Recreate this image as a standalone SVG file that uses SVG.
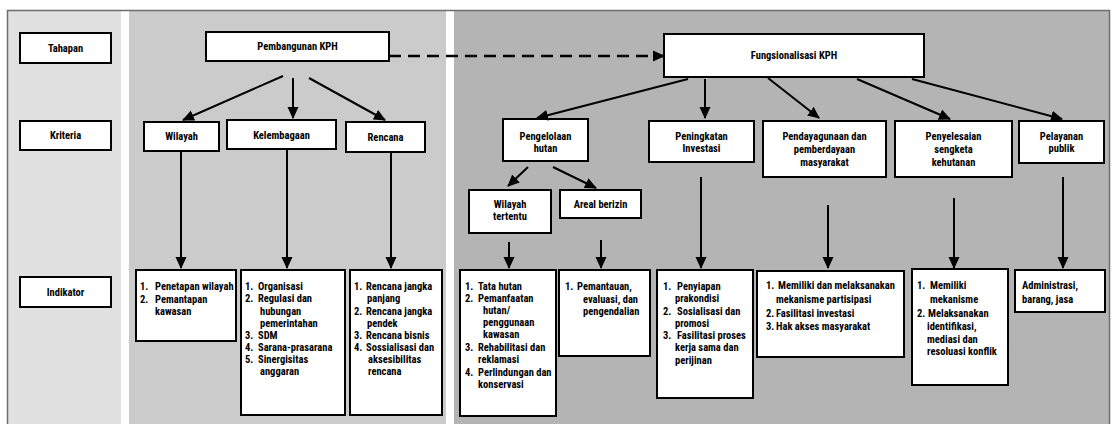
<svg xmlns="http://www.w3.org/2000/svg" width="1113" height="424" viewBox="0 0 1113 424">
<style>
.box{fill:#fff;stroke:#000;stroke-width:2}
.t{font-family:"Liberation Sans Narrow","Roboto Condensed","DejaVu Sans Condensed","Liberation Sans",sans-serif;font-weight:bold;font-size:10.5px;fill:#000}
.c{text-anchor:middle}
.ln{stroke:#000;stroke-width:2;fill:none;marker-end:url(#ah)}
.dash{stroke-width:2.5;stroke-dasharray:12 7}
</style>
<defs>
<marker id="ah" markerWidth="12" markerHeight="12" refX="11" refY="6" orient="auto" markerUnits="userSpaceOnUse"><path d="M0,0.5 L12,6 L0,11.5 z" fill="#000"/></marker>
</defs>
<g id="background">
<rect x="0" y="0" width="1113" height="424" fill="#fff"/>
<rect x="7" y="10" width="114" height="414" fill="#e1e1e1"/>
<rect x="129" y="10" width="317" height="414" fill="#cbcbcb"/>
<rect x="454" y="10" width="656" height="414" fill="#b4b4b4"/>
<rect x="7.5" y="10.5" width="1102" height="420" fill="none" stroke="#6e6e6e" stroke-width="1.5"/>
</g>
<g id="tahapan"><rect class="box" x="20" y="33" width="91" height="30"/><text class="t c" x="65.5" y="52">Tahapan</text></g>
<g id="kriteria"><rect class="box" x="20" y="121" width="91" height="29"/><text class="t c" x="65.5" y="139">Kriteria</text></g>
<g id="indikator"><rect class="box" x="20" y="277" width="91" height="30"/><text class="t c" x="65.5" y="296">Indikator</text></g>
<g id="pembangunan"><rect class="box" x="206" y="32" width="183" height="29"/><text class="t c" x="297.5" y="50">Pembangunan KPH</text></g>
<g id="fungsionalisasi"><rect class="box" x="664" y="34" width="260" height="43"/><text class="t c" x="794" y="59">Fungsionalisasi KPH</text></g>
<g id="wilayah"><rect class="box" x="144" y="122" width="75" height="29"/><text class="t c" x="181.5" y="140">Wilayah</text></g>
<g id="kelembagaan"><rect class="box" x="227" y="120" width="109" height="29"/><text class="t c" x="281.5" y="139">Kelembagaan</text></g>
<g id="rencana"><rect class="box" x="346" y="122" width="79" height="30"/><text class="t c" x="385.5" y="141">Rencana</text></g>
<g id="pengelolaan"><rect class="box" x="503" y="119" width="85" height="42"/><text class="t c" x="545.5" y="140">Pengelolaan</text><text class="t c" x="545.5" y="152">hutan</text></g>
<g id="peningkatan"><rect class="box" x="649" y="121" width="105" height="41"/><text class="t c" x="701.5" y="140">Peningkatan</text><text class="t c" x="701.5" y="152">Investasi</text></g>
<g id="pendayagunaan"><rect class="box" x="763" y="121" width="123" height="56"/><text class="t c" x="824.5" y="140">Pendayagunaan dan</text><text class="t c" x="824.5" y="153">pemberdayaan</text><text class="t c" x="824.5" y="166">masyarakat</text></g>
<g id="penyelesaian"><rect class="box" x="895" y="121" width="117" height="56"/><text class="t c" x="953.5" y="140">Penyelesaian</text><text class="t c" x="953.5" y="153">sengketa</text><text class="t c" x="953.5" y="166">kehutanan</text></g>
<g id="pelayanan"><rect class="box" x="1019" y="121" width="85" height="42"/><text class="t c" x="1061.5" y="140">Pelayanan</text><text class="t c" x="1061.5" y="152">publik</text></g>
<g id="wilayah-tertentu"><rect class="box" x="469" y="190" width="82" height="43"/><text class="t c" x="510" y="208">Wilayah</text><text class="t c" x="510" y="220">tertentu</text></g>
<g id="areal-berizin"><rect class="box" x="560" y="190" width="81" height="28"/><text class="t c" x="600.5" y="208">Areal berizin</text></g>
<g id="ind-wilayah"><rect class="box" x="136" y="270" width="100" height="71"/>
<text class="t"><tspan x="140" y="290">1.</tspan><tspan x="155" y="290">Penetapan wilayah</tspan><tspan x="140" y="302.5">2.</tspan><tspan x="155" y="302.5">Pemantapan</tspan><tspan x="155" y="315">kawasan</tspan></text></g>
<g id="ind-kelembagaan"><rect class="box" x="241" y="270" width="104" height="145"/>
<text class="t"><tspan x="245" y="290">1.</tspan><tspan x="258" y="290">Organisasi</tspan><tspan x="245" y="302">2.</tspan><tspan x="258" y="302">Regulasi dan</tspan><tspan x="260" y="314.5">hubungan</tspan><tspan x="260" y="326.5">pemerintahan</tspan><tspan x="245" y="338.5">3.</tspan><tspan x="258" y="338.5">SDM</tspan><tspan x="245" y="350.5">4.</tspan><tspan x="258" y="350.5">Sarana-prasarana</tspan><tspan x="245" y="362.5">5.</tspan><tspan x="258" y="362.5">Sinergisitas</tspan><tspan x="260" y="375">anggaran</tspan></text></g>
<g id="ind-rencana"><rect class="box" x="350" y="270" width="92" height="145"/>
<text class="t"><tspan x="354" y="290">1.</tspan><tspan x="366" y="290">Rencana jangka</tspan><tspan x="367" y="302">panjang</tspan><tspan x="354" y="314.5">2.</tspan><tspan x="366" y="314.5">Rencana jangka</tspan><tspan x="367" y="326.5">pendek</tspan><tspan x="354" y="338.5">3.</tspan><tspan x="366" y="338.5">Rencana bisnis</tspan><tspan x="354" y="350.5">4.</tspan><tspan x="366" y="350.5">Sossialisasi dan</tspan><tspan x="368" y="363">aksesibilitas</tspan><tspan x="368" y="375">rencana</tspan></text></g>
<g id="ind-wilayah-tertentu"><rect class="box" x="460" y="270" width="96" height="146"/>
<text class="t"><tspan x="465" y="290">1.</tspan><tspan x="478" y="290">Tata hutan</tspan><tspan x="465" y="302">2.</tspan><tspan x="478" y="302">Pemanfaatan</tspan><tspan x="483" y="314">hutan/</tspan><tspan x="483" y="326">penggunaan</tspan><tspan x="483" y="338">kawasan</tspan><tspan x="465" y="350.5">3.</tspan><tspan x="478" y="350.5">Rehabilitasi dan</tspan><tspan x="478" y="363">reklamasi</tspan><tspan x="465" y="375.5">4.</tspan><tspan x="478" y="375.5">Perlindungan dan</tspan><tspan x="478" y="388">konservasi</tspan></text></g>
<g id="ind-areal"><rect class="box" x="559" y="270" width="91" height="86"/>
<text class="t"><tspan x="565" y="290">1.</tspan><tspan x="577" y="290">Pemantauan,</tspan><tspan x="583" y="302.5">evaluasi, dan</tspan><tspan x="583" y="315">pengendalian</tspan></text></g>
<g id="ind-investasi"><rect class="box" x="657" y="270" width="96" height="128"/>
<text class="t"><tspan x="663" y="290">1.</tspan><tspan x="677" y="290">Penyiapan</tspan><tspan x="675" y="302">prakondisi</tspan><tspan x="663" y="315">2.</tspan><tspan x="677" y="315">Sosialisasi dan</tspan><tspan x="675" y="327">promosi</tspan><tspan x="663" y="339">3.</tspan><tspan x="677" y="339">Fasilitasi proses</tspan><tspan x="675" y="351">kerja sama dan</tspan><tspan x="675" y="363.5">perijinan</tspan></text></g>
<g id="ind-masyarakat"><rect class="box" x="757" y="271" width="147" height="86"/>
<text class="t"><tspan x="766" y="289">1.</tspan><tspan x="778" y="289">Memiliki  dan melaksanakan</tspan><tspan x="776" y="302.5">mekanisme partisipasi</tspan><tspan x="766" y="316.5">2.</tspan><tspan x="776" y="316.5">Fasilitasi investasi</tspan><tspan x="766" y="330">3.</tspan><tspan x="776" y="330">Hak akses masyarakat</tspan></text></g>
<g id="ind-sengketa"><rect class="box" x="912" y="269" width="96" height="116"/>
<text class="t"><tspan x="917" y="289">1.</tspan><tspan x="930" y="289">Memiliki</tspan><tspan x="930" y="302.5">mekanisme</tspan><tspan x="917" y="316.5">2.</tspan><tspan x="928" y="316.5">Melaksanakan</tspan><tspan x="927" y="329.5">identifikasi,</tspan><tspan x="927" y="342.5">mediasi dan</tspan><tspan x="927" y="355">resoluasi konflik</tspan></text></g>
<g id="ind-publik"><rect class="box" x="1015" y="270" width="90" height="42"/>
<text class="t"><tspan x="1022" y="289">Administrasi,</tspan><tspan x="1022" y="302.5">barang, jasa</tspan></text></g>
<g id="connectors">
<line class="ln dash" x1="389" y1="56" x2="664" y2="56"/>
<line class="ln" x1="283" y1="76" x2="183" y2="120"/>
<line class="ln" x1="293" y1="78" x2="293" y2="118"/>
<line class="ln" x1="309" y1="78" x2="385" y2="120"/>
<line class="ln" x1="181" y1="152" x2="181" y2="268"/>
<line class="ln" x1="287" y1="150" x2="287" y2="268"/>
<line class="ln" x1="391" y1="153" x2="391" y2="268"/>
<line class="ln" x1="688" y1="79" x2="537" y2="118"/>
<line class="ln" x1="705" y1="79" x2="705" y2="118"/>
<line class="ln" x1="768" y1="78" x2="819" y2="118"/>
<line class="ln" x1="857" y1="79" x2="950" y2="119"/>
<line class="ln" x1="912" y1="79" x2="1062" y2="119"/>
<line class="ln" x1="528" y1="167" x2="508" y2="186"/>
<line class="ln" x1="553" y1="167" x2="596" y2="188"/>
<line class="ln" x1="509" y1="242" x2="509" y2="268"/>
<line class="ln" x1="601" y1="240" x2="601" y2="268"/>
<line class="ln" x1="701" y1="177" x2="701" y2="268"/>
<line class="ln" x1="828" y1="205" x2="828" y2="268"/>
<line class="ln" x1="954" y1="198" x2="954" y2="268"/>
<line class="ln" x1="1063" y1="177" x2="1063" y2="268"/>
</g>
</svg>
